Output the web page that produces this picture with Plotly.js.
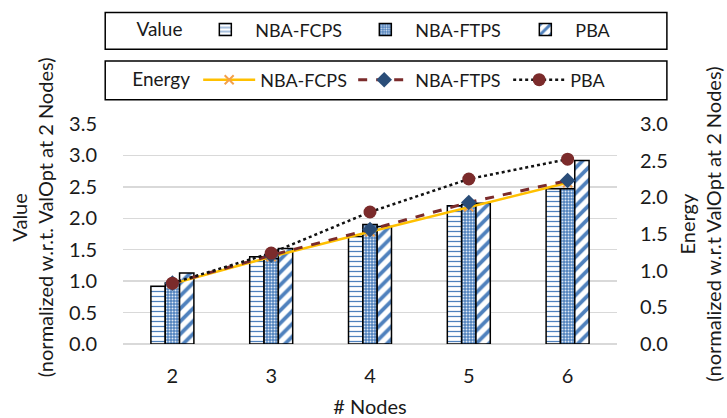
<!DOCTYPE html>
<html>
<head>
<meta charset="utf-8">
<script src="https://cdn.plot.ly/plotly-3.0.1.min.js"></script>
<style>html,body{margin:0;padding:0;background:#fff}#chart{width:727px;height:418px}</style>
</head>
<body>
<div id="chart"></div>
<script>
const categories = ["2", "3", "4", "5", "6"];
const seriesNames = ["NBA-FCPS", "NBA-FTPS", "PBA"];
const valueFCPS = [0.92, 1.39, 1.71, 2.20, 2.47];
const valueFTPS = [0.97, 1.36, 1.90, 2.22, 2.47];
const valuePBA  = [1.13, 1.52, 1.87, 2.24, 2.92];
const energyFCPS = [0.82, 1.19, 1.53, 1.87, 2.20];
const energyFTPS = [0.83, 1.21, 1.56, 1.93, 2.23];
const energyPBA  = [0.83, 1.24, 1.80, 2.25, 2.52];
const leftTicks = [0, 0.5, 1, 1.5, 2, 2.5, 3, 3.5];
const rightTicks = [0, 0.5, 1, 1.5, 2, 2.5, 3];

const FONT = "Lato, 'Open Sans', sans-serif";
const BLUE = "#4f81bd";
const TXT = "#1a1a1a";
const barLine = {color: "#000", width: 1.5};

const traces = [
  {type: "bar", name: seriesNames[0], x: categories, y: valueFCPS, legend: "legend",
   marker: {color: "#fff", line: barLine, pattern: {shape: "-", fgcolor: BLUE, bgcolor: "#fff", size: 5, solidity: 0.25}}},
  {type: "bar", name: seriesNames[1], x: categories, y: valueFTPS, legend: "legend",
   marker: {color: BLUE, line: barLine, pattern: {shape: ".", fgcolor: "#dfe9f5", bgcolor: BLUE, size: 3, solidity: 0.35}}},
  {type: "bar", name: seriesNames[2], x: categories, y: valuePBA, legend: "legend",
   marker: {color: "#fff", line: barLine, pattern: {shape: "/", fgcolor: BLUE, bgcolor: "#fff", size: 9, solidity: 0.42}}},
  {type: "scatter", mode: "lines+markers", name: seriesNames[0], x: categories, y: energyFCPS, yaxis: "y2", legend: "legend2",
   line: {color: "#ffc000", width: 2.5}, marker: {symbol: "x-thin", size: 9, color: "#f4a04a", line: {color: "#f4a04a", width: 2}}},
  {type: "scatter", mode: "lines+markers", name: seriesNames[1], x: categories, y: energyFTPS, yaxis: "y2", legend: "legend2",
   line: {color: "#7b2b2b", width: 3, dash: "dash"}, marker: {symbol: "diamond", size: 12, color: "#2a4d78"}},
  {type: "scatter", mode: "lines+markers", name: seriesNames[2], x: categories, y: energyPBA, yaxis: "y2", legend: "legend2",
   line: {color: "#111", width: 2.5, dash: "dot"}, marker: {symbol: "circle", size: 13, color: "#7b2b2b"}}
];

const layout = {
  width: 727, height: 418,
  margin: {l: 123, r: 110, t: 122, b: 74, pad: 0},
  paper_bgcolor: "#fff", plot_bgcolor: "#fff",
  font: {family: FONT, size: 18, color: TXT},
  barmode: "group", bargap: 0.565, bargroupgap: 0,
  xaxis: {type: "category", tickfont: {size: 20}, showgrid: false, showline: false, zeroline: false,
          ticks: "outside", ticklen: 14, tickcolor: "rgba(0,0,0,0)",
          title: {text: "# Nodes", font: {size: 20}, standoff: 15}},
  yaxis: {range: [0, 3.5], tickvals: leftTicks, tickformat: ".1f", tickfont: {size: 20},
          showgrid: true, gridcolor: "#d9d9d9", gridwidth: 1.5, zeroline: true, zerolinecolor: "#d9d9d9", zerolinewidth: 1.5,
          showline: false, ticks: "outside", ticklen: 21, tickcolor: "rgba(0,0,0,0)"},
  yaxis2: {range: [0, 3.0], tickvals: rightTicks, tickformat: ".1f", tickfont: {size: 20}, overlaying: "y", side: "right",
           showgrid: false, zeroline: false, showline: false, ticks: "outside", ticklen: 18, tickcolor: "rgba(0,0,0,0)"},
  legend: {orientation: "h", x: -0.005, xanchor: "left", y: 1.428, yanchor: "middle", bgcolor: "rgba(0,0,0,0)",
           title: {text: "\u00a0\u00a0\u00a0Value\u00a0", side: "left", font: {size: 19}}, font: {size: 18}, itemwidth: 50,
           entrywidth: 95, entrywidthmode: "pixels", tracegroupgap: 0},
  legend2: {orientation: "h", x: -0.005, xanchor: "left", y: 1.2, yanchor: "middle", bgcolor: "rgba(0,0,0,0)",
            title: {text: "\u00a0\u00a0Energy", side: "left", font: {size: 19}}, font: {size: 18}, itemwidth: 52,
            entrywidth: 88, entrywidthmode: "pixels", tracegroupgap: 0},
  shapes: [
    {type: "rect", xref: "paper", yref: "paper", x0: -0.036, x1: 1.101, y0: 1.340, y1: 1.507, line: {color: "#000", width: 1.5}},
    {type: "rect", xref: "paper", yref: "paper", x0: -0.036, x1: 1.101, y0: 1.110, y1: 1.286, line: {color: "#000", width: 1.5}}
  ],
  annotations: [
    {xref: "paper", yref: "paper", x: -0.185, y: 0.574, text: "Value<br>(normalized w.r.t. ValOpt at 2 Nodes)",
     textangle: -90, showarrow: false, font: {size: 20}, xanchor: "center", yanchor: "middle"},
    {xref: "paper", yref: "paper", x: 1.168, y: 0.547, text: "Energy<br>(normalized w.r.t ValOpt at 2 Nodes)",
     textangle: -90, showarrow: false, font: {size: 20}, xanchor: "center", yanchor: "middle"}
  ]
};

Plotly.newPlot("chart", traces, layout, {displayModeBar: false, staticPlot: true});
</script>
</body>
</html>
